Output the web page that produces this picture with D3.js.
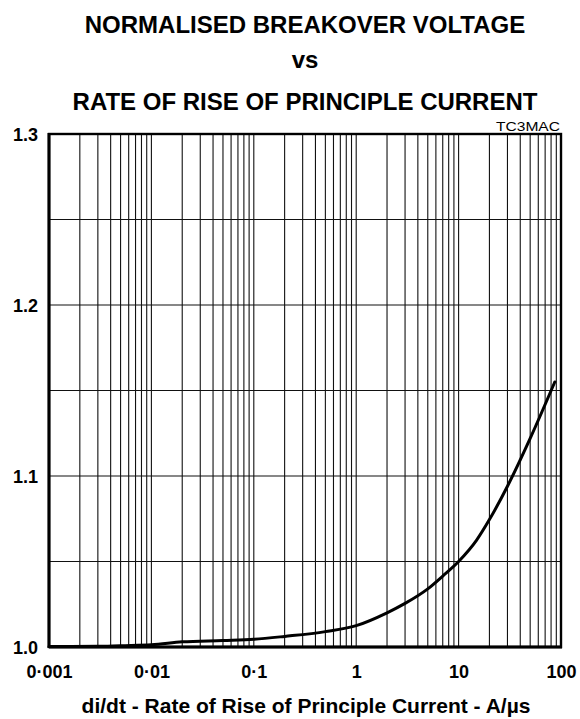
<!DOCTYPE html>
<html>
<head>
<meta charset="utf-8">
<script src="https://cdn.jsdelivr.net/npm/d3@7"></script>
<style>
  html, body { margin: 0; padding: 0; background: #fff; }
  svg { display: block; font-family: "Liberation Sans", Arial, sans-serif; }
</style>
</head>
<body>
<svg id="chart" width="580" height="719"></svg>
<script>
// ---- data ----
const titleLines = ["NORMALISED BREAKOVER VOLTAGE", "vs", "RATE OF RISE OF PRINCIPLE CURRENT"];
const figureCode = "TC3MAC";
const xAxisTitle = "di/dt - Rate of Rise of Principle Current - A/\u00b5s";

const diDt   = [0.001, 0.003, 0.005, 0.01, 0.02, 0.05, 0.1, 0.2, 0.5, 1, 2, 3, 5, 7, 10, 15, 20, 30, 50, 87];
const vNorm  = [1.0003, 1.0004, 1.0008, 1.0013, 1.0030, 1.0038, 1.0045, 1.0062, 1.0090, 1.0125, 1.0200, 1.0255, 1.0340, 1.0415, 1.0500, 1.0625, 1.0745, 1.0940, 1.1220, 1.1550];

const xTickValues = [0.001, 0.01, 0.1, 1, 10, 100];
const xTickLabels = ["0\u00b7001", "0\u00b701", "0\u00b71", "1", "10", "100"];
const yTickValues = [1.0, 1.1, 1.2, 1.3];
const yTickLabels = ["1.0", "1.1", "1.2", "1.3"];
const yGridValues = [1.05, 1.1, 1.15, 1.2, 1.25];
const xDomain = [0.001, 100];
const yDomain = [1.0, 1.3];

// ---- layout ----
const svg = d3.select("#chart");
const L = 49, R = 561, T = 134, B = 647;
const FONT = "'Liberation Sans', Arial, sans-serif";

const x = d3.scaleLog().domain(xDomain).range([L, R]);
const y = d3.scaleLinear().domain(yDomain).range([B, T]);

// grid: vertical lines at 1..9 of each decade
const xGrid = [];
for (let d = 0; d < xTickValues.length - 1; d++) {
  for (let m = 2; m <= 9; m++) xGrid.push(xTickValues[d] * m);
}
for (let d = 1; d < xTickValues.length - 1; d++) xGrid.push(xTickValues[d]);

const g = svg.append("g");
g.selectAll("line.vg").data(xGrid).join("line")
  .attr("x1", d => x(d)).attr("x2", d => x(d))
  .attr("y1", T).attr("y2", B)
  .attr("stroke", "#111").attr("stroke-width", 1.1);
g.selectAll("line.hg").data(yGridValues).join("line")
  .attr("x1", L).attr("x2", R)
  .attr("y1", d => y(d)).attr("y2", d => y(d))
  .attr("stroke", "#111").attr("stroke-width", 1.1);

// frame
g.append("rect").attr("x", L).attr("y", T).attr("width", R - L).attr("height", B - T)
  .attr("fill", "none").attr("stroke", "#000").attr("stroke-width", 2.4);
g.append("line").attr("x1", L).attr("x2", L).attr("y1", T - 1).attr("y2", B + 1)
  .attr("stroke", "#000").attr("stroke-width", 3);
g.append("line").attr("x1", L).attr("x2", R + 1).attr("y1", B).attr("y2", B)
  .attr("stroke", "#000").attr("stroke-width", 3);

// curve
const pts = diDt.map((d, i) => [d, vNorm[i]]);
const line = d3.line().x(d => x(d[0])).y(d => y(d[1])).curve(d3.curveMonotoneX);
svg.append("path").datum(pts).attr("d", line)
  .attr("fill", "none").attr("stroke", "#000").attr("stroke-width", 3)
  .attr("stroke-linejoin", "round").attr("stroke-linecap", "round");

// axes
const xAxis = d3.axisBottom(x).tickValues(xTickValues).tickSize(0).tickPadding(0)
  .tickFormat((d, i) => xTickLabels[i]);
const xa = svg.append("g").attr("transform", `translate(0,${B})`).call(xAxis);
xa.select(".domain").remove();
xa.selectAll("text").attr("dy", null).attr("y", 31)
  .attr("font-size", 18).attr("font-weight", "bold").attr("fill", "#000")
  .attr("font-family", FONT);

const yAxis = d3.axisLeft(y).tickValues(yTickValues).tickSize(0).tickPadding(0)
  .tickFormat((d, i) => yTickLabels[i]);
const ya = svg.append("g").call(yAxis);
ya.select(".domain").remove();
ya.selectAll(".tick").attr("transform", d => `translate(38,${y(d)})`);
ya.selectAll("text").attr("x", 0).attr("dy", "0.4em")
  .attr("font-size", 18).attr("font-weight", "bold").attr("fill", "#000")
  .attr("font-family", FONT);

// titles
const titleY = [33, 68, 110];
svg.selectAll("text.title").data(titleLines).join("text")
  .attr("class", "title")
  .attr("x", 305).attr("y", (d, i) => titleY[i])
  .attr("text-anchor", "middle")
  .attr("font-size", 24).attr("font-weight", "bold")
  .text(d => d);

svg.append("text").attr("x", 560).attr("y", 131).attr("text-anchor", "end")
  .attr("font-size", 13).attr("textLength", 64).attr("lengthAdjust", "spacingAndGlyphs")
  .text(figureCode);

svg.append("text").attr("x", 306).attr("y", 713).attr("text-anchor", "middle")
  .attr("font-size", 21).attr("font-weight", "bold").text(xAxisTitle);
</script>
</body>
</html>
